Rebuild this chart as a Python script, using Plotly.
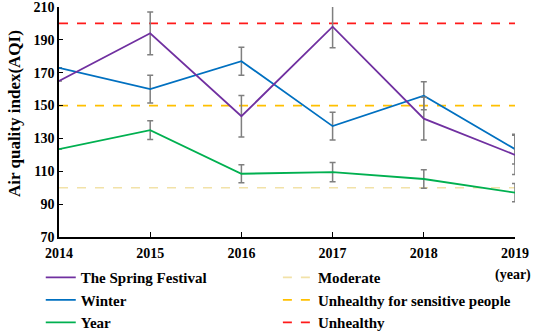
import plotly.graph_objects as go

years = [2014, 2015, 2016, 2017, 2018, 2019]
spring = [165, 194, 143.5, 198, 142, 120]
spring_err = [0, 13, 12.7, 12.8, 13, 12]
winter = [173, 160, 177, 137.5, 156, 123.5]
winter_err = [0, 8.5, 8.5, 8.5, 8.5, 9]
year_avg = [123.5, 135, 108.5, 109.5, 105.3, 97]
year_err = [0, 5.7, 5.5, 5.8, 5.6, 5.6]

moderate = [100] * len(years)
sensitive = [150] * len(years)
unhealthy = [200] * len(years)

y_ticks = [70, 90, 110, 130, 150, 170, 190, 210]

FONT = "Liberation Serif"
ERR_COLOR = "#7f7f7f"

fig = go.Figure()

def err(vals):
    return dict(type="data", array=vals, visible=True, color=ERR_COLOR, thickness=1.5, width=3)

fig.add_trace(go.Scatter(x=years, y=moderate, mode="lines", name="Moderate", legend="legend2",
                         line=dict(color="#F2E2A8", width=1.6, dash="dash"), legendrank=1))
fig.add_trace(go.Scatter(x=years, y=sensitive, mode="lines", name="Unhealthy for sensitive people",
                         legend="legend2",
                         line=dict(color="#FFC000", width=1.8, dash="dash"), legendrank=2))
fig.add_trace(go.Scatter(x=years, y=unhealthy, mode="lines", name="Unhealthy", legend="legend2",
                         line=dict(color="#FF1A1A", width=1.8, dash="dash"), legendrank=3))
fig.add_trace(go.Scatter(x=years, y=year_avg, mode="lines", name="Year",
                         line=dict(color="#00B050", width=1.8), error_y=err(year_err), legendrank=3))
fig.add_trace(go.Scatter(x=years, y=winter, mode="lines", name="Winter",
                         line=dict(color="#0070C0", width=1.8), error_y=err(winter_err), legendrank=2))
fig.add_trace(go.Scatter(x=years, y=spring, mode="lines", name="The Spring Festival",
                         line=dict(color="#7030A0", width=1.8), error_y=err(spring_err), legendrank=1))

leg_common = dict(orientation="v", xanchor="left", y=-0.105, yanchor="top",
                  font=dict(family=FONT, size=15, color="black", weight="bold"),
                  bgcolor="rgba(0,0,0,0)", traceorder="normal")

fig.update_layout(
    width=533, height=332,
    margin=dict(l=59, r=18, t=7, b=95, autoexpand=False),
    paper_bgcolor="white", plot_bgcolor="white",
    font=dict(family=FONT, size=14, color="black"),
    showlegend=True,
    legend=dict(x=-0.04, **leg_common),
    legend2=dict(x=0.48, **leg_common),
    xaxis=dict(range=[2014, 2019], tickmode="array", tickvals=years,
               ticktext=[f"<b>{y}</b>" for y in years], ticklabeloverflow="allow",
               showline=True, linecolor="black", linewidth=1.5,
               ticks="inside", ticklen=5, tickcolor="black", tickwidth=1,
               showgrid=False, zeroline=False, tickfont=dict(size=14), ticklabelstandoff=2),
    yaxis=dict(range=[70, 210], tickmode="array", tickvals=y_ticks,
               ticktext=[f"<b>{v}</b>" for v in y_ticks], ticklabeloverflow="allow",
               showline=True, linecolor="black", linewidth=1.5,
               ticks="inside", ticklen=4, tickcolor="black", tickwidth=1,
               showgrid=False, zeroline=False, tickfont=dict(size=14)),
    annotations=[
        dict(text="<b>(year)</b>", x=1.0, xref="paper", y=0, yref="paper",
             xanchor="center", yanchor="middle", showarrow=False, xshift=-2, yshift=-38,
             font=dict(size=14)),
        dict(text="<b>Air quality index(AQI)</b>", x=0, xref="paper", y=0.5, yref="paper",
             xanchor="center", yanchor="middle", showarrow=False, textangle=-90,
             xshift=-45, yshift=8, font=dict(size=17)),
    ],
)

fig.write_html("out.html", config={"displayModeBar": False},
               post_script="document.body.style.margin='0';document.body.style.padding='0';")
